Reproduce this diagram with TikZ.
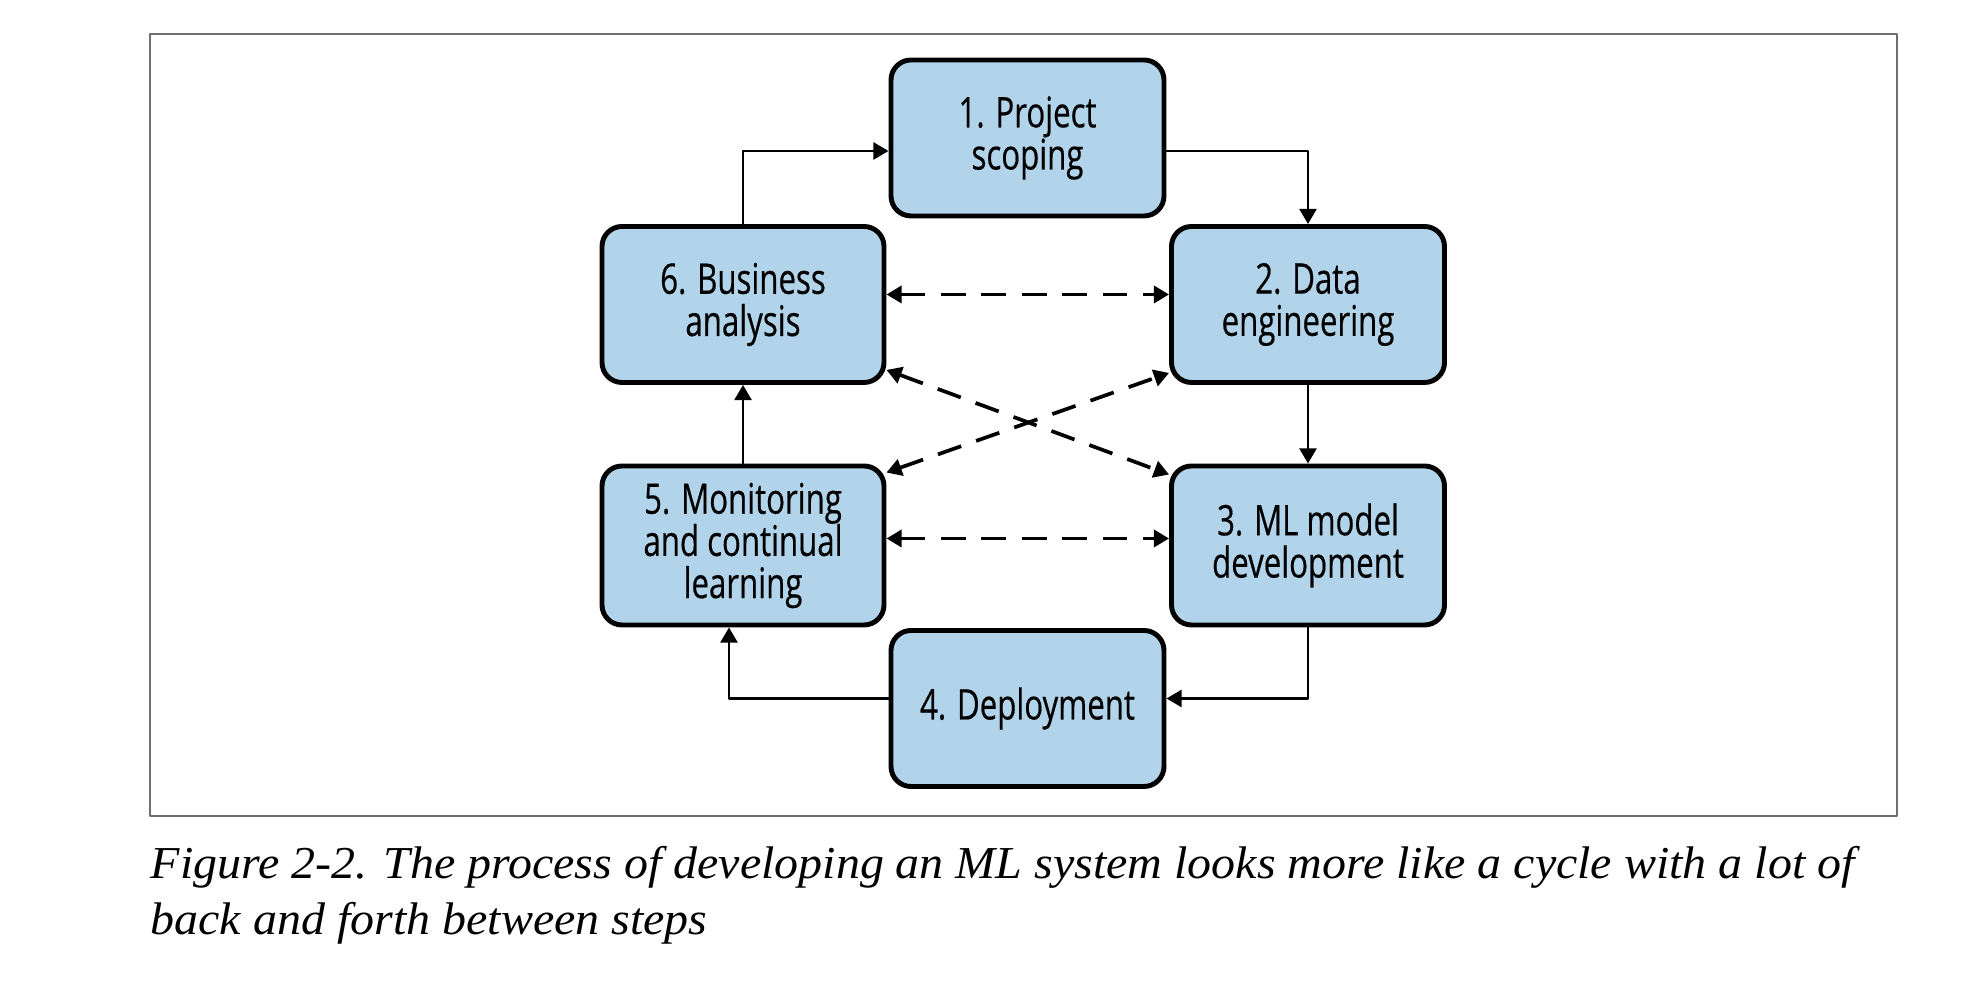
\documentclass[tikz,border=0pt]{standalone}
\usepackage{fontspec}
\usetikzlibrary{arrows.meta}
\newfontfamily\boxfont[FakeStretch=0.74,FakeBold=0.4]{Open Sans}
\newfontfamily\capfont[FakeStretch=1.05]{Liberation Serif}
\definecolor{stepblue}{RGB}{178,212,234}
\definecolor{framegray}{RGB}{110,110,110}

\begin{document}
\begin{tikzpicture}[line join=round, >={Triangle[length=4.3pt,width=4.8pt]}]
\useasboundingbox (0,0) rectangle (19.63,10);
\tikzset{
  stepbox/.style={draw, fill=stepblue, line width=1.4pt, rounded corners=0.2cm,
    minimum width=2.73cm, minimum height=1.56cm, align=center, inner sep=0pt,
    font=\boxfont\fontsize{12}{12}\selectfont},
  flow/.style={->, line width=0.8pt},
  link/.style={<->, line width=1.05pt, dash pattern=on 7pt off 4.5pt}
}
% --- frame ---
\draw[framegray, line width=0.8pt] (1.50,1.84) rectangle (18.97,9.66);

% --- the six steps ---
\node[stepbox] (b1) at (10.275,8.62) {1. Project\\scoping};
\node[stepbox, minimum width=2.82cm] (b6) at (7.43,6.955) {6. Business\\analysis};
\node[stepbox] (b2) at (13.08,6.955) {2. Data\\engineering};
\node[stepbox, minimum width=2.82cm, minimum height=1.59cm] (b5) at (7.43,4.545) {5. Monitoring\\and continual\\learning};
\node[stepbox, minimum height=1.59cm] (b3) at (13.08,4.545) {3. ML model\\development};
\node[stepbox] (b4) at (10.275,2.915) {4. Deployment};

% --- main cycle ---
\draw[flow] (b6.north) |- ([yshift=-1.3mm]b1.west);
\draw[flow] ([yshift=-1.3mm]b1.east) -| (b2.north);
\draw[flow] (b2.south) -- (b3.north);
\draw[flow] (b3.south) |- ([yshift=1mm]b4.east);
\draw[flow] ([yshift=1mm]b4.west) -| ([xshift=-1.4mm]b5.south);
\draw[flow] (b5.north) -- (b6.south);

% --- back and forth ---
\draw[link] ([yshift=1mm]b6.east) -- ([yshift=1mm]b2.west);
\draw[link] ([yshift=0.7mm]b5.east) -- ([yshift=0.7mm]b3.west);
\draw[link] ([yshift=1.5mm]b6.south east) -- ([yshift=-1.1mm]b3.north west);
\draw[link] ([yshift=-0.9mm]b5.north east) -- ([yshift=1.2mm]b2.south west);

% --- caption ---
\node[anchor=base west, align=left, inner sep=0pt, font=\capfont\itshape\fontsize{13}{16.2}\selectfont]
  (cap) at (1.50,0.65) {Figure 2-2. The process of developing an ML system looks more like a cycle with a lot of\\back and forth between steps};
\end{tikzpicture}
\end{document}
